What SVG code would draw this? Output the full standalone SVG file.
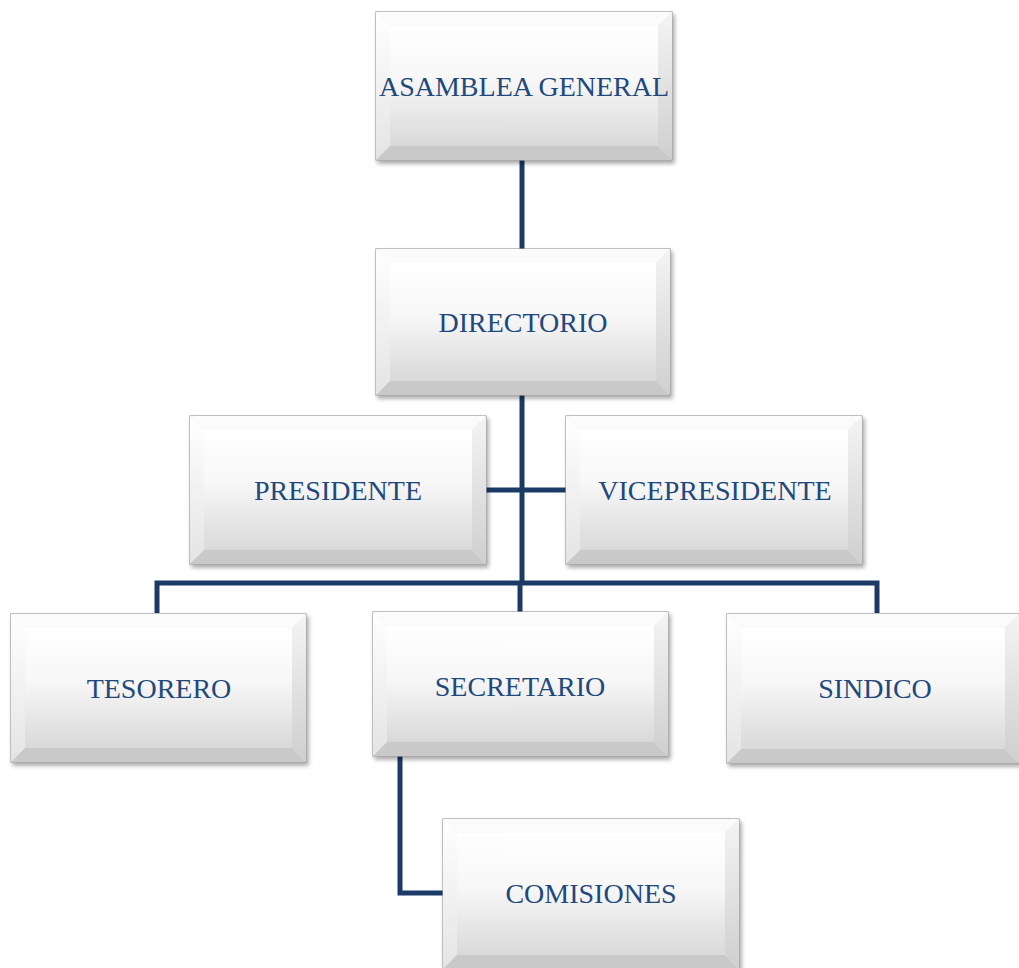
<svg xmlns="http://www.w3.org/2000/svg" width="1019" height="968" viewBox="0 0 1019 968">
<defs>
<linearGradient id="gIn" x1="0" y1="0" x2="0" y2="1"><stop offset="0" stop-color="#ffffff"/><stop offset="0.45" stop-color="#f7f7f7"/><stop offset="1" stop-color="#d9d9d9"/></linearGradient>
<linearGradient id="gSide" x1="0" y1="0" x2="0" y2="1"><stop offset="0" stop-color="#ffffff"/><stop offset="1" stop-color="#e4e4e4"/></linearGradient>
<linearGradient id="gRight" x1="0" y1="0" x2="0" y2="1"><stop offset="0" stop-color="#f4f4f4"/><stop offset="1" stop-color="#cfcfcf"/></linearGradient>
<filter id="sh" x="-5%" y="-5%" width="115%" height="120%"><feDropShadow dx="2" dy="3" stdDeviation="2" flood-color="#000" flood-opacity="0.35"/></filter>
</defs>
<style>
.frame{fill:#e8e8e8;stroke:#9a9a9a;stroke-width:1.2;filter:url(#sh)}
.top{fill:#fbfbfb}
.left{fill:url(#gSide)}
.right{fill:url(#gRight)}
.bot{fill:#c9c9c9}
.inner{fill:url(#gIn)}
.lbl{font-family:"Liberation Serif","Times New Roman",serif;font-size:28px;fill:#1f497d;text-anchor:middle}
.conn{fill:none;stroke:#1b3a66;stroke-width:5;stroke-linejoin:miter}
</style>
<g id="connectors">
<path class="conn" d="M522 160 V249"/>
<path class="conn" d="M522 395 V585"/>
<path class="conn" d="M486 490 H566"/>
<path class="conn" d="M157 613 V583 H877 V613"/>
<path class="conn" d="M520 583 V612"/>
<path class="conn" d="M400 756 V893 H443"/>
</g>
<g id="n-asamblea">
<rect class="frame" x="376" y="12" width="296" height="148"/>
<polygon class="top" points="376,12 672,12 658,26 390,26"/>
<polygon class="left" points="376,12 390,26 390,146 376,160"/>
<polygon class="right" points="672,12 658,26 658,146 672,160"/>
<polygon class="bot" points="376,160 390,146 658,146 672,160"/>
<rect class="inner" x="390" y="26" width="268" height="120"/>
<text class="lbl" x="524" y="96">ASAMBLEA GENERAL</text>
</g>
<g id="n-directorio">
<rect class="frame" x="376" y="249" width="294" height="146"/>
<polygon class="top" points="376,249 670,249 656,263 390,263"/>
<polygon class="left" points="376,249 390,263 390,381 376,395"/>
<polygon class="right" points="670,249 656,263 656,381 670,395"/>
<polygon class="bot" points="376,395 390,381 656,381 670,395"/>
<rect class="inner" x="390" y="263" width="266" height="118"/>
<text class="lbl" x="523" y="332">DIRECTORIO</text>
</g>
<g id="n-presidente">
<rect class="frame" x="190" y="416" width="296" height="148"/>
<polygon class="top" points="190,416 486,416 472,430 204,430"/>
<polygon class="left" points="190,416 204,430 204,550 190,564"/>
<polygon class="right" points="486,416 472,430 472,550 486,564"/>
<polygon class="bot" points="190,564 204,550 472,550 486,564"/>
<rect class="inner" x="204" y="430" width="268" height="120"/>
<text class="lbl" x="338" y="500">PRESIDENTE</text>
</g>
<g id="n-vicepresidente">
<rect class="frame" x="566" y="416" width="296" height="148"/>
<polygon class="top" points="566,416 862,416 848,430 580,430"/>
<polygon class="left" points="566,416 580,430 580,550 566,564"/>
<polygon class="right" points="862,416 848,430 848,550 862,564"/>
<polygon class="bot" points="566,564 580,550 848,550 862,564"/>
<rect class="inner" x="580" y="430" width="268" height="120"/>
<text class="lbl" x="715" y="500">VICEPRESIDENTE</text>
</g>
<g id="n-tesorero">
<rect class="frame" x="11" y="614" width="295" height="148"/>
<polygon class="top" points="11,614 306,614 292,628 25,628"/>
<polygon class="left" points="11,614 25,628 25,748 11,762"/>
<polygon class="right" points="306,614 292,628 292,748 306,762"/>
<polygon class="bot" points="11,762 25,748 292,748 306,762"/>
<rect class="inner" x="25" y="628" width="267" height="120"/>
<text class="lbl" x="159" y="698">TESORERO</text>
</g>
<g id="n-secretario">
<rect class="frame" x="373" y="612" width="295" height="144"/>
<polygon class="top" points="373,612 668,612 654,626 387,626"/>
<polygon class="left" points="373,612 387,626 387,742 373,756"/>
<polygon class="right" points="668,612 654,626 654,742 668,756"/>
<polygon class="bot" points="373,756 387,742 654,742 668,756"/>
<rect class="inner" x="387" y="626" width="267" height="116"/>
<text class="lbl" x="520" y="696">SECRETARIO</text>
</g>
<g id="n-sindico">
<rect class="frame" x="727" y="614" width="292" height="149"/>
<polygon class="top" points="727,614 1019,614 1005,628 741,628"/>
<polygon class="left" points="727,614 741,628 741,749 727,763"/>
<polygon class="right" points="1019,614 1005,628 1005,749 1019,763"/>
<polygon class="bot" points="727,763 741,749 1005,749 1019,763"/>
<rect class="inner" x="741" y="628" width="264" height="121"/>
<text class="lbl" x="875" y="698">SINDICO</text>
</g>
<g id="n-comisiones">
<rect class="frame" x="443" y="819" width="296" height="150"/>
<polygon class="top" points="443,819 739,819 725,833 457,833"/>
<polygon class="left" points="443,819 457,833 457,955 443,969"/>
<polygon class="right" points="739,819 725,833 725,955 739,969"/>
<polygon class="bot" points="443,969 457,955 725,955 739,969"/>
<rect class="inner" x="457" y="833" width="268" height="122"/>
<text class="lbl" x="591" y="903">COMISIONES</text>
</g>
</svg>
